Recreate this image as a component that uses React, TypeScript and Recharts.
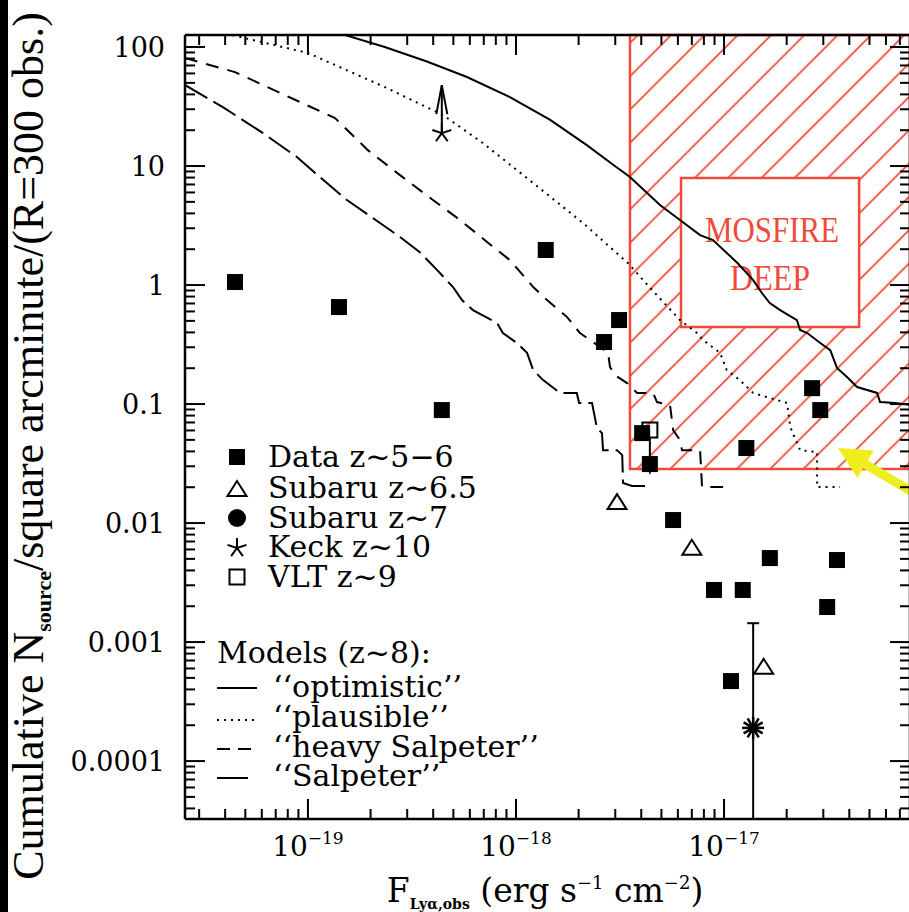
import React from 'react';
import {
  ComposedChart,
  Line,
  Scatter,
  XAxis,
  YAxis,
  ReferenceArea,
  ReferenceLine,
  ErrorBar,
} from 'recharts';

const X_MIN = 2.565e-20;
const X_MAX = 7.83e-17;
const Y_MIN = 3.26e-5;
const Y_MAX = 126.2;

const RED = '#ef4b3a';
const YELLOW = '#eeee1e';
const SERIF = '"DejaVu Serif", serif';

// axis decades
const xDecades = [-20, -19, -18, -17];
const yDecades = [-5, -4, -3, -2, -1, 0, 1, 2];
const yDecadeLabels = ['0.00001', '0.0001', '0.001', '0.01', '0.1', '1', '10', '100'];

// Data z~5-6
const dataFlux = [4.46e-20, 1.41e-19, 4.4e-19, 1.39e-18, 3.13e-18, 2.65e-18, 4.04e-18, 4.4e-18, 1.28e-17,
  2.65e-17, 2.9e-17, 5.69e-18, 1.66e-17, 3.49e-17, 8.95e-18, 1.23e-17, 3.13e-17, 1.08e-17];
const dataN = [1.06, 0.653, 0.089, 1.97, 0.508, 0.332, 0.057, 0.0313, 0.0427,
  0.136, 0.089, 0.0106, 0.00508, 0.00489, 0.00274, 0.00274, 0.00197, 0.00047];

// Subaru z~6.5
const subaru65Flux = [3.06e-18, 7.0e-18, 1.55e-17];
const subaru65N = [0.015, 0.0062, 0.00062];

// Subaru z~7 (with upper error)
const subaru7Flux = [1.38e-17];
const subaru7N = [1.9e-4];
const subaru7Upper = [0.00144];

// Keck z~10 (lower limit)
const keckFlux = [4.4e-19];
const keckN = [18.9];

// VLT z~9 (upper limit)
const vltFlux = [4.4e-18];
const vltN = [0.0605];

// Models (z~8)
const optimisticFlux = [2.56e-20, 1.51e-19, 2.34e-19, 3.73e-19, 5.81e-19, 9.35e-19, 1.46e-18, 2.19e-18, 2.92e-18,
  3.53e-18, 4.92e-18, 6.14e-18, 7.67e-18, 8.85e-18, 1.16e-17, 1.38e-17, 1.52e-17, 1.66e-17, 1.86e-17, 2.24e-17,
  2.32e-17, 2.51e-17, 2.9e-17, 3.24e-17, 3.49e-17, 3.9e-17, 4.36e-17, 5.44e-17, 5.62e-17, 6.64e-17, 8.0e-17];
const optimisticN = [250, 126, 100, 75.5, 56.0, 38, 24.4, 15.0, 10.3,
  8.09, 4.7, 3.52, 2.63, 2.39, 1.53, 1.1, 0.857, 0.706, 0.616, 0.508,
  0.419, 0.395, 0.326, 0.284, 0.201, 0.169, 0.139, 0.124, 0.104, 0.102, 0.098];

const plausibleFlux = [2.56e-20, 4.32e-20, 1.0e-19, 2.34e-19, 4.46e-19, 6.93e-19, 1.21e-18, 2.1e-18, 3.45e-18,
  4.51e-18, 6.14e-18, 7.41e-18, 7.93e-18, 9.57e-18, 1.03e-17, 1.19e-17, 1.38e-17, 2.01e-17, 2.08e-17, 2.32e-17,
  2.8e-17, 2.8e-17, 3.61e-17];
const plausibleN = [156, 126, 89.1, 46.1, 26.8, 15.6, 7.19, 3.32, 1.53,
  0.908, 0.508, 0.395, 0.345, 0.269, 0.193, 0.159, 0.124, 0.102, 0.0641, 0.041,
  0.0395, 0.0201, 0.0201];

const heavyFlux = [2.56e-20, 4.46e-20, 7.74e-20, 1.35e-19, 1.94e-19, 2.77e-19, 3.99e-19, 5.38e-19, 7.26e-19,
  9.35e-19, 1.21e-18, 1.41e-18, 1.76e-18, 2.03e-18, 2.54e-18, 2.77e-18, 2.83e-18, 2.99e-18, 3.42e-18, 3.82e-18,
  4.56e-18, 4.76e-18, 5.5e-18, 5.69e-18, 6.14e-18, 6.28e-18, 7.67e-18, 7.84e-18, 9.89e-18];
const heavyN = [80.9, 61.6, 39.5, 25.3, 13.6, 8.39, 5.18, 3.52, 2.3,
  1.62, 0.962, 0.748, 0.538, 0.395, 0.301, 0.269, 0.205, 0.175, 0.15, 0.124,
  0.124, 0.104, 0.0982, 0.0605, 0.0498, 0.041, 0.041, 0.0201, 0.0201];

const salpeterFlux = [2.56e-20, 3.9e-20, 6.08e-20, 8.85e-20, 1.14e-19, 1.54e-19, 2.22e-19, 2.77e-19, 3.45e-19,
  4.17e-19, 4.98e-19, 5.5e-19, 6.21e-19, 8.11e-19, 8.65e-19, 1.01e-18, 1.13e-18, 1.21e-18, 1.35e-18, 1.63e-18,
  1.96e-18, 2.01e-18, 2.32e-18, 2.45e-18, 2.59e-18, 2.62e-18, 3.06e-18, 3.24e-18, 3.27e-18, 3.61e-18, 4.17e-18];
const salpeterN = [48.0, 31.3, 18.9, 11.9, 8.09, 5.18, 3.32, 2.53, 1.89,
  1.34, 0.962, 0.748, 0.616, 0.48, 0.395, 0.326, 0.269, 0.193, 0.159, 0.124,
  0.124, 0.102, 0.102, 0.0628, 0.057, 0.041, 0.041, 0.0372, 0.0217, 0.0205, 0.0205];

// MOSFIRE region
const mosfireLimitFlux = 3.53e-18;
const mosfireLimitN = 0.0284;
const mosfireBox = { x1: 6.21e-18, x2: 4.46e-17, y1: 0.443, y2: 7.93 };
const arrowTip = { x: 3.53e-17, y: 0.0427 };
const arrowTail = { x: 1.36e-16, y: 0.0106 };

const pairs = (xs: number[], ys: number[]) => xs.map((x, i) => ({ x, y: ys[i] }));

const dataPts = pairs(dataFlux, dataN);
const subaru65Pts = pairs(subaru65Flux, subaru65N);
const subaru7Pts = subaru7Flux.map((x, i) => ({
  x,
  y: subaru7N[i],
  err: [subaru7N[i] - Y_MIN, subaru7Upper[i] - subaru7N[i]],
}));
const keckPts = pairs(keckFlux, keckN);
const vltPts = pairs(vltFlux, vltN);
const optimistic = pairs(optimisticFlux, optimisticN);
const plausible = pairs(plausibleFlux, plausibleN);
const heavy = pairs(heavyFlux, heavyN);
const salpeter = pairs(salpeterFlux, salpeterN);

const makeTicks = (decades: number[], lo: number, hi: number) => {
  const out: number[] = [];
  decades.forEach((e) => {
    for (let k = 1; k <= 9; k++) {
      const v = k * Math.pow(10, e);
      if (v >= lo && v <= hi) out.push(v);
    }
  });
  return out;
};
const xTicks = makeTicks(xDecades, X_MIN, X_MAX);
const yTicks = makeTicks(yDecades, Y_MIN, Y_MAX);

const isDecade = (v: number) => Math.abs(Math.log10(v) - Math.round(Math.log10(v))) < 1e-6;
const MAJOR = 20;
const MINOR = 10;

function BottomTick({ x, y, payload }: any) {
  const major = isDecade(payload.value);
  const e = Math.round(Math.log10(payload.value));
  return (
    <g>
      <line x1={x} x2={x} y1={y} y2={y - (major ? MAJOR : MINOR)} stroke="#000" strokeWidth={2} />
      {major && (
        <text x={x} y={y + 37} textAnchor="middle" fontFamily={SERIF} fontSize={28} fill="#000">
          10
          <tspan fontSize={17} dy={-12}>{'\u2212' + Math.abs(e)}</tspan>
        </text>
      )}
    </g>
  );
}

function TopTick({ x, y, payload }: any) {
  const major = isDecade(payload.value);
  return <line x1={x} x2={x} y1={y} y2={y + (major ? MAJOR : MINOR)} stroke="#000" strokeWidth={2} />;
}

function LeftTick({ x, y, payload }: any) {
  const major = isDecade(payload.value);
  const e = Math.round(Math.log10(payload.value));
  return (
    <g>
      <line x1={x} x2={x + (major ? MAJOR : MINOR)} y1={y} y2={y} stroke="#000" strokeWidth={2} />
      {major && (
        <text x={x - 20} y={y + 10} textAnchor="end" fontFamily={SERIF} fontSize={27} fill="#000">
          {yDecadeLabels[yDecades.indexOf(e)]}
        </text>
      )}
    </g>
  );
}

function RightTick({ x, y, payload }: any) {
  const major = isDecade(payload.value);
  return <line x1={x} x2={x - (major ? MAJOR : MINOR)} y1={y} y2={y} stroke="#000" strokeWidth={2} />;
}

function FilledSquare({ cx, cy }: any) {
  return <rect x={cx - 8} y={cy - 8} width={16} height={16} fill="#000" />;
}

function OpenTriangle({ cx, cy }: any) {
  return (
    <polygon
      points={`${cx},${cy - 8} ${cx - 9.5},${cy + 7} ${cx + 9.5},${cy + 7}`}
      fill="none"
      stroke="#000"
      strokeWidth={2}
    />
  );
}

function Star({ cx, cy }: any) {
  return (
    <g>
      {[-90, -18, 54, 126, 198].map((a) => {
        const r = (a * Math.PI) / 180;
        return (
          <line key={a} x1={cx} y1={cy} x2={cx + 10 * Math.cos(r)} y2={cy + 10 * Math.sin(r)} stroke="#000" strokeWidth={2} />
        );
      })}
    </g>
  );
}

function KeckMarker({ cx, cy }: any) {
  return (
    <g stroke="#000" strokeWidth={2} fill="none">
      <Star cx={cx} cy={cy} />
      <line x1={cx} y1={cy} x2={cx} y2={cy - 48} />
      <polyline points={`${cx - 5.5},${cy - 19} ${cx},${cy - 48} ${cx + 5.5},${cy - 19}`} />
    </g>
  );
}

function Burst({ cx, cy }: any) {
  return (
    <g>
      <circle cx={cx} cy={cy} r={5} fill="#000" />
      {Array.from({ length: 12 }, (_, i) => {
        const r = (i * 30 * Math.PI) / 180;
        return (
          <line key={i} x1={cx} y1={cy} x2={cx + 11 * Math.cos(r)} y2={cy + 11 * Math.sin(r)} stroke="#000" strokeWidth={2.5} />
        );
      })}
    </g>
  );
}

function OpenSquare({ cx, cy }: any) {
  return <rect x={cx - 7.5} y={cy - 7.5} width={15} height={15} fill="none" stroke="#000" strokeWidth={2} />;
}

function VltMarker({ cx, cy }: any) {
  return (
    <g stroke="#000" strokeWidth={2} fill="none">
      <OpenSquare cx={cx} cy={cy} />
      <line x1={cx} y1={cy + 7.5} x2={cx} y2={cy + 42} />
      <polyline points={`${cx - 5},${cy + 26} ${cx},${cy + 42} ${cx + 5},${cy + 26}`} />
    </g>
  );
}

const renderMosfireLabel = (props: any) => {
  const vb = props.viewBox ?? props;
  const cx = vb.x + vb.width / 2;
  const cy = vb.y + vb.height / 2;
  return (
    <g fill={RED} fontFamily='"Liberation Serif", serif' fontSize={35}>
      <text x={cx + 2} y={cy - 11} textAnchor="middle" textLength={134} lengthAdjust="spacingAndGlyphs">
        MOSFIRE
      </text>
      <text x={cx} y={cy + 37} textAnchor="middle" textLength={80} lengthAdjust="spacingAndGlyphs">
        DEEP
      </text>
    </g>
  );
};

const renderYellowArrow = (p: any) => {
  const { x1, y1, x2, y2 } = p;
  const dx = x2 - x1;
  const dy = y2 - y1;
  const len = Math.hypot(dx, dy) || 1;
  const ux = dx / len;
  const uy = dy / len;
  const nx = -uy;
  const ny = ux;
  const hl = 32;
  const hw = 16;
  const sw = 4.5;
  const bx = x1 + ux * hl;
  const by = y1 + uy * hl;
  const pts = [
    [x1, y1],
    [bx + nx * hw, by + ny * hw],
    [bx + nx * sw, by + ny * sw],
    [x2 + nx * sw, y2 + ny * sw],
    [x2 - nx * sw, y2 - ny * sw],
    [bx - nx * sw, by - ny * sw],
    [bx - nx * hw, by - ny * hw],
  ];
  return <polygon points={pts.map((q) => q.join(',')).join(' ')} fill={YELLOW} />;
};

const axisLine = { stroke: '#000', strokeWidth: 2.5 };

function LegendOverlay() {
  const text = { fontFamily: SERIF, fontSize: 30, fill: '#000' } as const;
  return (
    <svg width={909} height={912} style={{ position: 'absolute', left: 0, top: 0, pointerEvents: 'none' }}>
      <rect x={0} y={0} width={8} height={912} fill="#000" />
      <text
        transform="translate(43, 446) rotate(-90)"
        textAnchor="middle"
        fontFamily='"Liberation Serif", serif'
        fontSize={44}
        fill="#000"
        style={{ whiteSpace: 'pre' }}
      >
        Cumulative N
        <tspan fontSize={22} fontWeight="bold" dy={8}>source</tspan>
        <tspan dy={-8}>/square arcminute/(R=300 obs.)</tspan>
      </text>
      <text x={545} y={902} textAnchor="middle" fontFamily={SERIF} fontSize={33} fill="#000" style={{ whiteSpace: 'pre' }}>
        F
        <tspan fontSize={14} fontWeight="bold" dy={7}>Lyα,obs</tspan>
        <tspan dy={-7}> (erg s</tspan>
        <tspan fontSize={18} dy={-13}>{'\u22121'}</tspan>
        <tspan dy={13}> cm</tspan>
        <tspan fontSize={18} dy={-13}>{'\u22122'}</tspan>
        <tspan dy={13}>)</tspan>
      </text>

      <FilledSquare cx={237} cy={457} />
      <text x={268} y={467} {...text}>Data z~5−6</text>
      <OpenTriangle cx={237} cy={489} />
      <text x={268} y={498} {...text}>Subaru z~6.5</text>
      <circle cx={237} cy={518} r={9} fill="#000" />
      <text x={268} y={528} {...text}>Subaru z~7</text>
      <Star cx={237} cy={548} />
      <text x={268} y={557} {...text}>Keck z~10</text>
      <OpenSquare cx={237} cy={577} />
      <text x={268} y={587} {...text}>VLT z~9</text>

      <text x={217} y={663} {...text}>Models (z~8):</text>
      <line x1={217} x2={257} y1={688} y2={688} stroke="#000" strokeWidth={2} />
      <text x={273} y={697} {...text}>‘‘optimistic’’</text>
      <line x1={217} x2={257} y1={720} y2={720} stroke="#000" strokeWidth={2} strokeDasharray="2 5" />
      <text x={273} y={727} {...text}>‘‘plausible’’</text>
      <line x1={217} x2={251} y1={749} y2={749} stroke="#000" strokeWidth={2} strokeDasharray="13 8" />
      <text x={273} y={757} {...text}>‘‘heavy Salpeter’’</text>
      <line x1={217} x2={248} y1={778} y2={778} stroke="#000" strokeWidth={2} />
      <text x={273} y={786} {...text}>‘‘Salpeter’’</text>
    </svg>
  );
}

export default function App() {
  return (
    <div
      style={{
        position: 'fixed',
        left: 0,
        top: 0,
        width: 909,
        height: 912,
        overflow: 'hidden',
        background: '#fff',
      }}
    >
      <ComposedChart width={930} height={912} margin={{ top: 25, right: 10, bottom: 33, left: 85 }}>
        <defs>
          <pattern id="mosfireHatch" patternUnits="userSpaceOnUse" x={7} y={0} width={33.3} height={33.3}>
            <path
              d="M0,33.3 L33.3,0 M-4,4 L4,-4 M29.3,37.3 L37.3,29.3"
              stroke={RED}
              strokeWidth={1.8}
              fill="none"
            />
          </pattern>
        </defs>
        <XAxis
          dataKey="x"
          type="number"
          scale="log"
          domain={[X_MIN, X_MAX]}
          allowDataOverflow
          ticks={xTicks}
          interval={0}
          tickSize={0}
          tickMargin={0}
          tickLine={false}
          tick={(p: any) => <BottomTick {...p} />}
          height={60}
          axisLine={axisLine}
        />
        <XAxis
          xAxisId="top"
          orientation="top"
          dataKey="x"
          type="number"
          scale="log"
          domain={[X_MIN, X_MAX]}
          allowDataOverflow
          ticks={xTicks}
          interval={0}
          tickSize={0}
          tickMargin={0}
          tickLine={false}
          tick={(p: any) => <TopTick {...p} />}
          height={10}
          axisLine={axisLine}
        />
        <YAxis
          dataKey="y"
          type="number"
          scale="log"
          domain={[Y_MIN, Y_MAX]}
          allowDataOverflow
          ticks={yTicks}
          interval={0}
          tickSize={0}
          tickMargin={0}
          tickLine={false}
          tick={(p: any) => <LeftTick {...p} />}
          width={100}
          axisLine={axisLine}
        />
        <YAxis
          yAxisId="right"
          orientation="right"
          dataKey="y"
          type="number"
          scale="log"
          domain={[Y_MIN, Y_MAX]}
          allowDataOverflow
          ticks={yTicks}
          interval={0}
          tickSize={0}
          tickMargin={0}
          tickLine={false}
          tick={(p: any) => <RightTick {...p} />}
          width={10}
          axisLine={axisLine}
        />

        <ReferenceArea
          x1={mosfireLimitFlux}
          x2={X_MAX}
          y1={mosfireLimitN}
          y2={Y_MAX}
          fill="url(#mosfireHatch)"
          fillOpacity={1}
          stroke={RED}
          strokeWidth={2.5}
        />
        <ReferenceArea
          x1={mosfireBox.x1}
          x2={mosfireBox.x2}
          y1={mosfireBox.y1}
          y2={mosfireBox.y2}
          fill="#fff"
          fillOpacity={1}
          stroke={RED}
          strokeWidth={2.5}
          label={renderMosfireLabel}
        />

        <Line data={optimistic} dataKey="y" stroke="#000" strokeWidth={2} dot={false} isAnimationActive={false} />
        <Line
          data={plausible}
          dataKey="y"
          stroke="#000"
          strokeWidth={2}
          strokeDasharray="2 5"
          dot={false}
          isAnimationActive={false}
        />
        <Line
          data={heavy}
          dataKey="y"
          stroke="#000"
          strokeWidth={2}
          strokeDasharray="13 9"
          dot={false}
          isAnimationActive={false}
        />
        <Line
          data={salpeter}
          dataKey="y"
          stroke="#000"
          strokeWidth={2}
          strokeDasharray="26 7"
          dot={false}
          isAnimationActive={false}
        />

        <Scatter data={dataPts} dataKey="y" shape={(p: any) => <FilledSquare {...p} />} isAnimationActive={false} />
        <Scatter data={subaru65Pts} dataKey="y" shape={(p: any) => <OpenTriangle {...p} />} isAnimationActive={false} />
        <Scatter data={subaru7Pts} dataKey="y" shape={(p: any) => <Burst {...p} />} isAnimationActive={false}>
          <ErrorBar dataKey="err" direction="y" width={6} stroke="#000" strokeWidth={2} />
        </Scatter>
        <Scatter data={keckPts} dataKey="y" shape={(p: any) => <KeckMarker {...p} />} isAnimationActive={false} />
        <Scatter data={vltPts} dataKey="y" shape={(p: any) => <VltMarker {...p} />} isAnimationActive={false} />

        <ReferenceLine segment={[arrowTip, arrowTail]} ifOverflow="visible" shape={renderYellowArrow} />
      </ComposedChart>
      <LegendOverlay />
    </div>
  );
}
